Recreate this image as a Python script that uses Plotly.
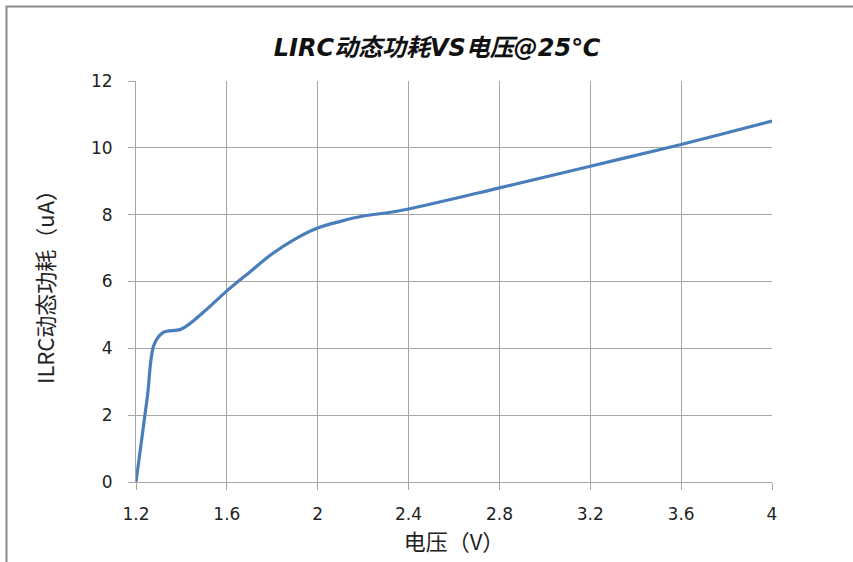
import plotly.graph_objects as go

voltage = [1.2, 1.25, 1.28, 1.32, 1.4, 1.5, 1.6, 1.7, 1.8, 1.9, 2.0, 2.1, 2.2, 2.3, 2.4, 2.8, 3.2, 3.6, 4.0]
current_ua = [0, 2.55, 4.12, 4.48, 4.58, 5.1, 5.72, 6.28, 6.83, 7.27, 7.6, 7.8, 7.96, 8.05, 8.17, 8.8, 9.45, 10.1, 10.8]
x_ticks = [1.2, 1.6, 2.0, 2.4, 2.8, 3.2, 3.6, 4.0]
x_tick_labels = ["1.2", "1.6", "2", "2.4", "2.8", "3.2", "3.6", "4"]
y_ticks = [0, 2, 4, 6, 8, 10, 12]

title_text = "LIRC动态功耗VS电压@25℃"
x_title = "电压（V）"
y_title = "ILRC动态功耗（uA）"

W, H = 853, 562
L, R, T, B = 136, 81, 81, 80
pw, ph = W - L - R, H - T - B

tick_font = "DejaVu Sans, Noto Sans CJK SC, sans-serif"
title_font = "DejaVu Sans, Noto Sans CJK SC, sans-serif"
cjk = "Noto Sans CJK SC, DejaVu Sans, sans-serif"

fig = go.Figure()
fig.add_trace(go.Scatter(
    x=voltage, y=current_ua, mode="lines",
    line=dict(color="#4A7EBB", width=3.2, shape="spline", smoothing=1.0),
    cliponaxis=False, showlegend=False, hoverinfo="x+y",
))

fig.update_layout(
    width=W, height=H,
    margin=dict(l=L, r=R, t=T, b=B, autoexpand=False),
    paper_bgcolor="white", plot_bgcolor="white",
    font=dict(family=tick_font, size=16, color="#222222"),
    title=dict(
        text="<b><i>" + title_text + "</i></b>",
        x=437 / W, xanchor="center", xref="container",
        y=1 - 48 / H, yanchor="middle", yref="container",
        font=dict(family=title_font, size=24, color="#111111"),
    ),
    xaxis=dict(
        range=[1.2, 4.0], tickvals=x_ticks, ticktext=x_tick_labels,
        showgrid=True, gridcolor="#A6A6A6", gridwidth=1,
        showline=True, linecolor="#A6A6A6", linewidth=1,
        ticks="outside", ticklen=7, tickcolor="#A6A6A6",
        zeroline=False, ticklabelstandoff=10,
        tickfont=dict(family=tick_font, size=17, color="#222222"),
        title=dict(text=x_title, font=dict(family=cjk, size=22, color="#222222"), standoff=10),
    ),
    yaxis=dict(
        range=[0, 12], tickvals=y_ticks,
        showgrid=True, gridcolor="#A6A6A6", gridwidth=1,
        showline=True, linecolor="#A6A6A6", linewidth=1,
        ticks="outside", ticklen=7, tickcolor="#A6A6A6",
        zeroline=False, ticklabelstandoff=12,
        tickfont=dict(family=tick_font, size=17, color="#222222"),
        title=dict(text=y_title, font=dict(family=cjk, size=22, color="#222222"), standoff=30),
    ),
)

# outer chart frame (top-left corner visible in the reference)
fx = (6.5 - L) / pw
fy = (H - B - 6.5) / ph
fig.add_shape(type="rect", xref="paper", yref="paper",
              x0=fx, y0=-2, x1=3, y1=fy,
              line=dict(color="#8C8C8C", width=2), fillcolor="rgba(0,0,0,0)", layer="below")

fig.write_html("out.html", config={"displayModeBar": False},
               post_script="document.body.style.margin='0';")
